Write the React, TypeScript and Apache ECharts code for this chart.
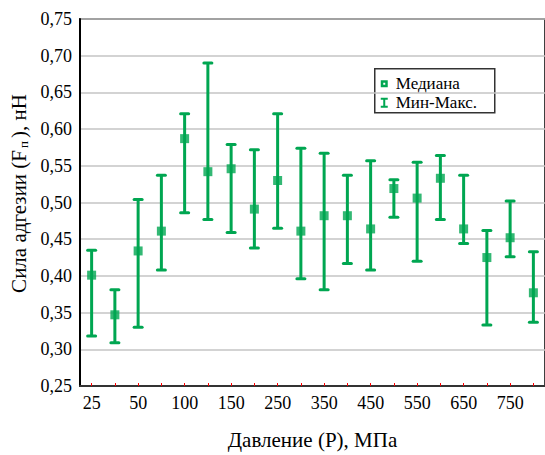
import React, { useEffect, useRef } from "react";
import * as echarts from "echarts";

// Pressure levels, MPa (every other one is labelled on the axis)
const categories = [
  "25", "37,5", "50", "75", "100", "125", "150", "200", "250", "300",
  "350", "400", "450", "500", "550", "600", "650", "700", "750", "800",
];

// Adhesion force, nN
const medians = [
  0.401, 0.347, 0.434, 0.461, 0.587, 0.542, 0.546, 0.491, 0.53, 0.461,
  0.482, 0.482, 0.464, 0.519, 0.506, 0.533, 0.464, 0.425, 0.452, 0.377,
];
const mins = [
  0.318, 0.309, 0.33, 0.408, 0.486, 0.477, 0.459, 0.438, 0.465, 0.396,
  0.381, 0.417, 0.408, 0.48, 0.42, 0.477, 0.444, 0.333, 0.426, 0.337,
];
const maxs = [
  0.435, 0.381, 0.504, 0.537, 0.621, 0.69, 0.579, 0.572, 0.621, 0.574,
  0.567, 0.537, 0.557, 0.531, 0.555, 0.564, 0.537, 0.462, 0.502, 0.433,
];

const legendNames = ["Медиана", "Мин-Макс."];

const yMin = 0.25;
const yMax = 0.75;
const yStep = 0.05;

const GREEN = "#00a651";
const FONT = "Liberation Serif";

export default function App() {
  const ref = useRef<HTMLDivElement>(null);

  useEffect(() => {
    if (!ref.current) return;
    const chart = echarts.init(ref.current, undefined, { renderer: "svg" });

    const rangeData = categories.map((_, i) => [i, mins[i], maxs[i]]);

    // Boxed legend: hollow square for the median, I-beam for the range
    const rowY = [15, 34];
    const legendText = (text: string, y: number) => ({
      type: "text",
      x: 21,
      y,
      style: {
        text,
        fontFamily: FONT,
        fontSize: 17,
        fill: "#000",
        verticalAlign: "middle",
        align: "left",
      },
    });
    const legendGraphic = {
      type: "group",
      left: 374,
      top: 68,
      z: 100,
      children: [
        {
          type: "rect",
          shape: { x: 0, y: 0, width: 120, height: 44 },
          style: { fill: "#fff", stroke: "#333", lineWidth: 1.5 },
        },
        {
          type: "rect",
          shape: { x: 6, y: rowY[0] - 3.5, width: 7, height: 7 },
          style: { fill: GREEN },
        },
        {
          type: "rect",
          shape: { x: 8.5, y: rowY[0] - 1, width: 2, height: 2 },
          style: { fill: "#fff" },
        },
        {
          type: "polygon",
          shape: {
            points: [
              [6, rowY[1] - 5], [13, rowY[1] - 5], [13, rowY[1] - 3], [10.5, rowY[1] - 3],
              [10.5, rowY[1] + 3], [13, rowY[1] + 3], [13, rowY[1] + 5], [6, rowY[1] + 5],
              [6, rowY[1] + 3], [8.5, rowY[1] + 3], [8.5, rowY[1] - 3], [6, rowY[1] - 3],
            ],
          },
          style: { fill: GREEN },
        },
        legendText(legendNames[0], rowY[0]),
        legendText(legendNames[1], rowY[1]),
      ],
    };

    chart.setOption({
      animation: false,
      backgroundColor: "#ffffff",
      textStyle: { fontFamily: FONT },
      grid: {
        left: 80,
        right: -3,
        top: 19,
        bottom: 68,
        show: true,
        borderColor: "#000",
        borderWidth: 1.5,
        backgroundColor: "transparent",
      },
      graphic: [legendGraphic],
      xAxis: {
        type: "category",
        data: categories,
        boundaryGap: true,
        name: "Давление (Р), МПа",
        nameLocation: "middle",
        nameGap: 43,
        nameTextStyle: { fontFamily: FONT, fontSize: 21, color: "#000" },
        axisLine: { show: true, lineStyle: { color: "#333", width: 2 } },
        axisTick: {
          show: true,
          inside: true,
          length: 3,
          interval: 0,
          alignWithLabel: true,
          lineStyle: { color: "#ff0000", width: 1 },
        },
        axisLabel: {
          interval: 1,
          margin: 8,
          fontFamily: FONT,
          fontSize: 18,
          color: "#000",
        },
        splitLine: { show: false },
      },
      yAxis: {
        type: "value",
        min: yMin,
        max: yMax,
        interval: yStep,
        name: "Сила адгезии (F{sub|п}), нН",
        nameLocation: "middle",
        nameGap: 50,
        nameTextStyle: {
          fontFamily: FONT,
          fontSize: 21,
          color: "#000",
          padding: [0, 0, 0, 18],
          rich: {
            sub: { fontFamily: FONT, fontSize: 13, color: "#000", padding: [8, 3, 0, 2] },
          },
        },
        axisLine: { show: true, lineStyle: { color: "#000", width: 2 } },
        axisTick: { show: false },
        axisLabel: {
          margin: 8,
          fontFamily: FONT,
          fontSize: 18,
          color: "#000",
          formatter: (v: number) => v.toFixed(2).replace(".", ","),
        },
        splitLine: { show: true, lineStyle: { color: "#c4c4c4", width: 1.5 } },
      },
      series: [
        {
          name: legendNames[1],
          type: "custom",
          data: rangeData,
          encode: { x: 0, y: [1, 2] },
          itemStyle: { color: GREEN },
          z: 2,
          renderItem: (params: any, api: any) => {
            const idx = api.value(0);
            const lo = api.coord([idx, api.value(1)]);
            const hi = api.coord([idx, api.value(2)]);
            const half = 4;
            const style = { stroke: GREEN, lineWidth: 3, lineCap: "round" };
            return {
              type: "group",
              children: [
                {
                  type: "line",
                  shape: { x1: lo[0], y1: lo[1], x2: hi[0], y2: hi[1] },
                  style: { stroke: GREEN, lineWidth: 3 },
                },
                {
                  type: "line",
                  shape: { x1: lo[0] - half, y1: lo[1], x2: lo[0] + half, y2: lo[1] },
                  style,
                },
                {
                  type: "line",
                  shape: { x1: hi[0] - half, y1: hi[1], x2: hi[0] + half, y2: hi[1] },
                  style,
                },
              ],
            };
          },
        },
        {
          name: legendNames[0],
          type: "scatter",
          data: medians,
          symbol: "rect",
          symbolSize: 9,
          itemStyle: { color: GREEN },
          z: 3,
        },
      ],
    });

    return () => chart.dispose();
  }, []);

  return (
    <div
      ref={ref}
      style={{ position: "fixed", left: 0, top: 0, width: 545, height: 455 }}
    />
  );
}
